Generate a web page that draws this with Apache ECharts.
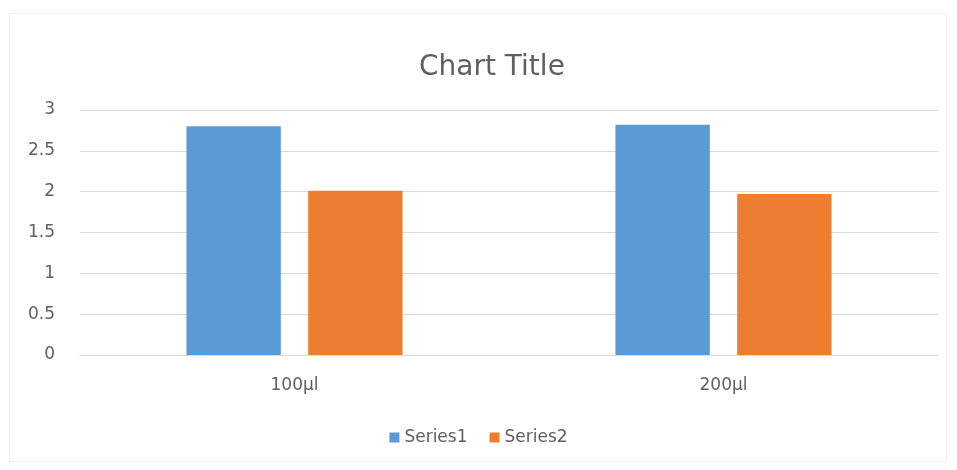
<!DOCTYPE html>
<html>
<head>
<meta charset="utf-8">
<script src="https://cdn.jsdelivr.net/npm/echarts@6/dist/echarts.min.js"></script>
<style>
html,body{margin:0;padding:0;background:#fff;}
#c{width:957px;height:470px;}
</style>
</head>
<body>
<div id="c"></div>
<script>
var categories = ['100µl', '200µl'];
var series1 = [2.8, 2.82];
var series2 = [2.01, 1.97];
var yTicks = [0, 0.5, 1, 1.5, 2, 2.5, 3];

var chart = echarts.init(document.getElementById('c'));
var font = '"DejaVu Sans", "Open Sans", sans-serif';
chart.setOption({
  animation: false,
  backgroundColor: '#fff',
  graphic: [{
    type: 'rect',
    shape: {x: 9.5, y: 13.5, width: 937, height: 448},
    style: {fill: 'none', stroke: '#efefef', lineWidth: 1},
    silent: true
  }],
  title: {
    text: 'Chart Title',
    left: 414,
    top: 49,
    textStyle: {fontFamily: font, fontSize: 28, fontWeight: 'normal', color: '#606060'}
  },
  legend: {
    bottom: 19,
    left: 'center',
    itemWidth: 10,
    itemHeight: 10,
    itemGap: 22,
    icon: 'rect',
    textStyle: {fontFamily: font, fontSize: 17, color: '#606060'},
    data: ['Series1', 'Series2']
  },
  grid: {left: 80, right: 19, top: 110, bottom: 115},
  xAxis: {
    type: 'category',
    data: categories,
    axisTick: {show: false},
    axisLine: {lineStyle: {color: '#d9d9d9'}},
    axisLabel: {fontFamily: font, fontSize: 17, color: '#606060', margin: 22}
  },
  yAxis: {
    type: 'value',
    min: yTicks[0],
    max: yTicks[yTicks.length - 1],
    interval: 0.5,
    axisLine: {show: false},
    axisTick: {show: false},
    splitLine: {lineStyle: {color: '#d9d9d9'}},
    axisLabel: {fontFamily: font, fontSize: 17, color: '#606060', margin: 25}
  },
  series: [
    {name: 'Series1', type: 'bar', data: series1, barWidth: '22%', barGap: '29%', itemStyle: {color: '#5b9bd5'}},
    {name: 'Series2', type: 'bar', data: series2, barWidth: '22%', itemStyle: {color: '#ed7d31'}}
  ]
});
</script>
</body>
</html>
